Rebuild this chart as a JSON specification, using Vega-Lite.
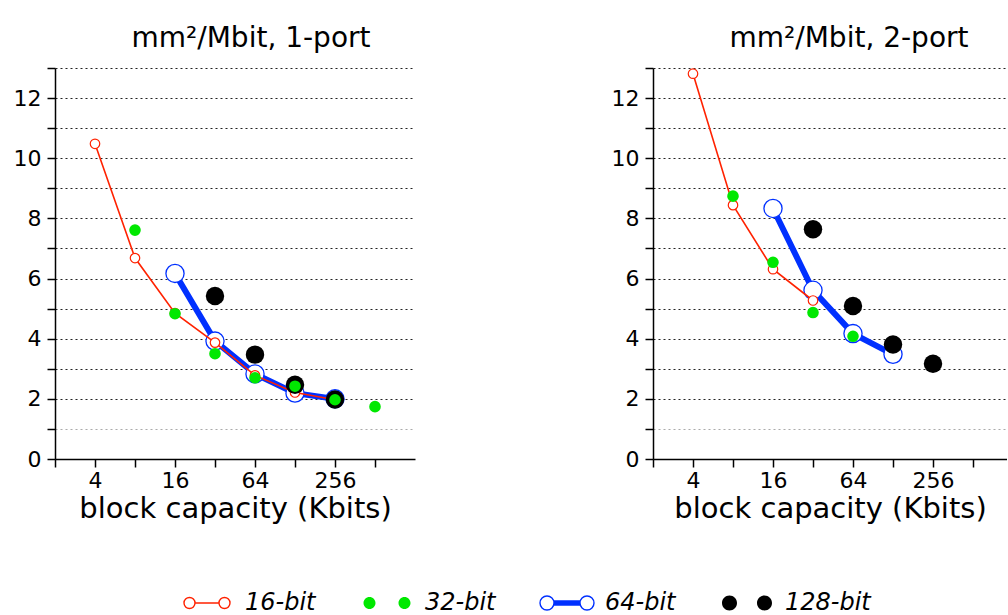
{
  "$schema": "https://vega.github.io/schema/vega-lite/v6.json",
  "padding": {"left": 13, "top": 25, "right": 0, "bottom": 0},
  "datasets": {
    "d": [
      {"panel": "1-port", "series": "16-bit", "kbits": 4, "area": 10.48},
      {"panel": "1-port", "series": "16-bit", "kbits": 8, "area": 6.68},
      {"panel": "1-port", "series": "16-bit", "kbits": 16, "area": 4.85},
      {"panel": "1-port", "series": "16-bit", "kbits": 32, "area": 3.87},
      {"panel": "1-port", "series": "16-bit", "kbits": 64, "area": 2.78},
      {"panel": "1-port", "series": "16-bit", "kbits": 128, "area": 2.21},
      {"panel": "1-port", "series": "16-bit", "kbits": 256, "area": 1.97},
      {"panel": "1-port", "series": "32-bit", "kbits": 8, "area": 7.61},
      {"panel": "1-port", "series": "32-bit", "kbits": 16, "area": 4.83},
      {"panel": "1-port", "series": "32-bit", "kbits": 32, "area": 3.5},
      {"panel": "1-port", "series": "32-bit", "kbits": 64, "area": 2.7},
      {"panel": "1-port", "series": "32-bit", "kbits": 128, "area": 2.42},
      {"panel": "1-port", "series": "32-bit", "kbits": 256, "area": 1.97},
      {"panel": "1-port", "series": "32-bit", "kbits": 512, "area": 1.74},
      {"panel": "1-port", "series": "64-bit", "kbits": 16, "area": 6.17},
      {"panel": "1-port", "series": "64-bit", "kbits": 32, "area": 3.92},
      {"panel": "1-port", "series": "64-bit", "kbits": 64, "area": 2.83},
      {"panel": "1-port", "series": "64-bit", "kbits": 128, "area": 2.19},
      {"panel": "1-port", "series": "64-bit", "kbits": 256, "area": 2.0},
      {"panel": "1-port", "series": "128-bit", "kbits": 32, "area": 5.42},
      {"panel": "1-port", "series": "128-bit", "kbits": 64, "area": 3.47},
      {"panel": "1-port", "series": "128-bit", "kbits": 128, "area": 2.47},
      {"panel": "1-port", "series": "128-bit", "kbits": 256, "area": 1.98},
      {"panel": "2-port", "series": "16-bit", "kbits": 4, "area": 12.81},
      {"panel": "2-port", "series": "16-bit", "kbits": 8, "area": 8.44},
      {"panel": "2-port", "series": "16-bit", "kbits": 16, "area": 6.31},
      {"panel": "2-port", "series": "16-bit", "kbits": 32, "area": 5.27},
      {"panel": "2-port", "series": "32-bit", "kbits": 8, "area": 8.74},
      {"panel": "2-port", "series": "32-bit", "kbits": 16, "area": 6.54},
      {"panel": "2-port", "series": "32-bit", "kbits": 32, "area": 4.87},
      {"panel": "2-port", "series": "32-bit", "kbits": 64, "area": 4.08},
      {"panel": "2-port", "series": "64-bit", "kbits": 16, "area": 8.33},
      {"panel": "2-port", "series": "64-bit", "kbits": 32, "area": 5.61},
      {"panel": "2-port", "series": "64-bit", "kbits": 64, "area": 4.17},
      {"panel": "2-port", "series": "64-bit", "kbits": 128, "area": 3.48},
      {"panel": "2-port", "series": "128-bit", "kbits": 32, "area": 7.64},
      {"panel": "2-port", "series": "128-bit", "kbits": 64, "area": 5.09},
      {"panel": "2-port", "series": "128-bit", "kbits": 128, "area": 3.81},
      {"panel": "2-port", "series": "128-bit", "kbits": 256, "area": 3.17}
    ]
  },
  "data": {"name": "d"},
  "spacing": 196,
  "resolve": {"scale": {"x": "independent", "y": "independent", "color": "shared"}},
  "hconcat": [
    {
      "width": 360,
      "height": 391,
      "title": {"text": "mm²/Mbit, 1-port", "dx": 16},
      "transform": [{"filter": "datum.panel === '1-port'"}],
      "encoding": {
        "x": {
          "field": "kbits", "type": "quantitative",
          "scale": {"type": "log", "base": 2, "domain": [2, 1024], "nice": false},
          "axis": {
            "values": [2, 4, 8, 16, 32, 64, 128, 256, 512], "format": "d",
            "labelExpr": "indexof([4,16,64,256], datum.value) >= 0 ? datum.label : ''",
            "grid": false, "labelOverlap": false, "labelFlush": false,
            "tickSize": 8, "tickWidth": 1.5, "tickColor": "black", "domainColor": "black", "domainWidth": 1.5,
            "labelFontSize": 22, "labelPadding": 3,
            "title": "block capacity (Kbits)", "titleFontSize": 29, "titlePadding": 3
          }
        },
        "y": {
          "field": "area", "type": "quantitative",
          "scale": {"domain": [0, 13], "nice": false},
          "axis": {
            "values": [0, 1, 2, 3, 4, 5, 6, 7, 8, 9, 10, 11, 12, 13],
            "labelExpr": "datum.value % 2 === 0 && datum.value < 13 ? datum.label : ''",
            "grid": true, "gridDash": [2, 3], "gridWidth": 1.2,
            "gridColor": {"condition": {"test": "datum.value === 1", "value": "#aaaaaa"}, "value": "#222222"},
            "labelOverlap": false, "labelFlush": false,
            "tickSize": 8, "tickWidth": 1.5, "tickColor": "black", "domainColor": "black", "domainWidth": 1.5,
            "labelFontSize": 22, "labelPadding": 6, "title": null
          }
        },
        "color": {
          "field": "series", "type": "nominal",
          "scale": {"domain": ["16-bit", "32-bit", "64-bit", "128-bit"], "range": ["#ff2200", "#00e800", "#0030ff", "#000000"]},
          "legend": {
            "orient": "none", "legendX": 118, "legendY": 523, "direction": "horizontal", "columns": 4, "title": null,
            "symbolSize": 100, "symbolStrokeWidth": 1.5, "symbolOffset": 22, "labelOffset": 26,
            "labelFont": "DejaVu Sans", "labelFontStyle": "italic", "labelFontSize": 24, "labelColor": "black",
            "gridAlign": "all", "columnPadding": 22, "padding": 0, "labelLimit": 200,
            "encode": {
              "symbols": {
                "update": {
                  "shape": {"signal": "datum.value === '16-bit' ? 'M-4.6,0A1.1,1.1,0,1,1,-2.4,0A1.1,1.1,0,1,1,-4.6,0ZM-2.4,0L2.4,0M2.4,0A1.1,1.1,0,1,1,4.6,0A1.1,1.1,0,1,1,2.4,0Z' : datum.value === '32-bit' ? 'M-4.7,0A1.2,1.2,0,1,1,-2.3,0A1.2,1.2,0,1,1,-4.7,0ZM2.3,0A1.2,1.2,0,1,1,4.7,0A1.2,1.2,0,1,1,2.3,0Z' : datum.value === '64-bit' ? 'M-5.4,0A1.4,1.4,0,1,1,-2.6,0A1.4,1.4,0,1,1,-5.4,0ZM2.6,0A1.4,1.4,0,1,1,5.4,0A1.4,1.4,0,1,1,2.6,0ZM-2.7,-0.4L2.7,-0.4M-2.7,-0.2L2.7,-0.2M-2.7,0L2.7,0M-2.7,0.2L2.7,0.2M-2.7,0.4L2.7,0.4' : 'M-5,0A1.5,1.5,0,1,1,-2,0A1.5,1.5,0,1,1,-5,0ZM2,0A1.5,1.5,0,1,1,5,0A1.5,1.5,0,1,1,2,0Z'"},
                  "stroke": {"signal": "datum.value === '16-bit' ? '#ff2200' : datum.value === '64-bit' ? '#0030ff' : datum.value === '32-bit' ? '#00e800' : '#000000'"},
                  "strokeWidth": {"value": 1.4},
                  "opacity": {"value": 1},
                  "fillOpacity": {"signal": "datum.value === '16-bit' || datum.value === '64-bit' ? 0 : 1"},
                  "strokeOpacity": {"signal": "datum.value === '16-bit' || datum.value === '64-bit' ? 1 : 0"}
                }
              }
            }
          }
        }
      },
      "layer": [
        {"transform": [{"filter": "datum.series === '64-bit'"}], "mark": {"type": "line", "strokeWidth": 6}},
        {"transform": [{"filter": "datum.series === '64-bit'"}], "mark": {"type": "point", "filled": false, "fill": "white", "size": 330, "strokeWidth": 1.3, "opacity": 1}},
        {"transform": [{"filter": "datum.series === '16-bit'"}], "mark": {"type": "line", "strokeWidth": 1.6}},
        {"transform": [{"filter": "datum.series === '16-bit'"}], "mark": {"type": "point", "filled": false, "fill": "white", "size": 90, "strokeWidth": 1.2, "opacity": 1}},
        {"transform": [{"filter": "datum.series === '128-bit'"}], "mark": {"type": "point", "filled": true, "size": 340, "opacity": 1}},
        {"transform": [{"filter": "datum.series === '32-bit'"}], "mark": {"type": "point", "filled": true, "size": 135, "opacity": 1}}
      ]
    },
    {
      "width": 354,
      "height": 391,
      "title": {"text": "mm²/Mbit, 2-port", "dx": 19},
      "transform": [{"filter": "datum.panel === '2-port'"}],
      "encoding": {
        "x": {
          "field": "kbits", "type": "quantitative",
          "scale": {"type": "log", "base": 2, "domain": [2, 922.9], "nice": false},
          "axis": {
            "values": [2, 4, 8, 16, 32, 64, 128, 256, 512], "format": "d",
            "labelExpr": "indexof([4,16,64,256], datum.value) >= 0 ? datum.label : ''",
            "grid": false, "labelOverlap": false, "labelFlush": false,
            "tickSize": 8, "tickWidth": 1.5, "tickColor": "black", "domainColor": "black", "domainWidth": 1.5,
            "labelFontSize": 22, "labelPadding": 3,
            "title": "block capacity (Kbits)", "titleFontSize": 29, "titlePadding": 3
          }
        },
        "y": {
          "field": "area", "type": "quantitative",
          "scale": {"domain": [0, 13], "nice": false},
          "axis": {
            "values": [0, 1, 2, 3, 4, 5, 6, 7, 8, 9, 10, 11, 12, 13],
            "labelExpr": "datum.value % 2 === 0 && datum.value < 13 ? datum.label : ''",
            "grid": true, "gridDash": [2, 3], "gridWidth": 1.2,
            "gridColor": {"condition": {"test": "datum.value === 1", "value": "#aaaaaa"}, "value": "#222222"},
            "labelOverlap": false, "labelFlush": false,
            "tickSize": 8, "tickWidth": 1.5, "tickColor": "black", "domainColor": "black", "domainWidth": 1.5,
            "labelFontSize": 22, "labelPadding": 6, "title": null
          }
        },
        "color": {
          "field": "series", "type": "nominal",
          "scale": {"domain": ["16-bit", "32-bit", "64-bit", "128-bit"], "range": ["#ff2200", "#00e800", "#0030ff", "#000000"]},
          "legend": {
            "orient": "none", "legendX": 118, "legendY": 523, "direction": "horizontal", "columns": 4, "title": null,
            "symbolSize": 100, "symbolStrokeWidth": 1.5, "symbolOffset": 22, "labelOffset": 26,
            "labelFont": "DejaVu Sans", "labelFontStyle": "italic", "labelFontSize": 24, "labelColor": "black",
            "gridAlign": "all", "columnPadding": 22, "padding": 0, "labelLimit": 200,
            "encode": {
              "symbols": {
                "update": {
                  "shape": {"signal": "datum.value === '16-bit' ? 'M-4.6,0A1.1,1.1,0,1,1,-2.4,0A1.1,1.1,0,1,1,-4.6,0ZM-2.4,0L2.4,0M2.4,0A1.1,1.1,0,1,1,4.6,0A1.1,1.1,0,1,1,2.4,0Z' : datum.value === '32-bit' ? 'M-4.7,0A1.2,1.2,0,1,1,-2.3,0A1.2,1.2,0,1,1,-4.7,0ZM2.3,0A1.2,1.2,0,1,1,4.7,0A1.2,1.2,0,1,1,2.3,0Z' : datum.value === '64-bit' ? 'M-5.4,0A1.4,1.4,0,1,1,-2.6,0A1.4,1.4,0,1,1,-5.4,0ZM2.6,0A1.4,1.4,0,1,1,5.4,0A1.4,1.4,0,1,1,2.6,0ZM-2.7,-0.4L2.7,-0.4M-2.7,-0.2L2.7,-0.2M-2.7,0L2.7,0M-2.7,0.2L2.7,0.2M-2.7,0.4L2.7,0.4' : 'M-5,0A1.5,1.5,0,1,1,-2,0A1.5,1.5,0,1,1,-5,0ZM2,0A1.5,1.5,0,1,1,5,0A1.5,1.5,0,1,1,2,0Z'"},
                  "stroke": {"signal": "datum.value === '16-bit' ? '#ff2200' : datum.value === '64-bit' ? '#0030ff' : datum.value === '32-bit' ? '#00e800' : '#000000'"},
                  "strokeWidth": {"value": 1.4},
                  "opacity": {"value": 1},
                  "fillOpacity": {"signal": "datum.value === '16-bit' || datum.value === '64-bit' ? 0 : 1"},
                  "strokeOpacity": {"signal": "datum.value === '16-bit' || datum.value === '64-bit' ? 1 : 0"}
                }
              }
            }
          }
        }
      },
      "layer": [
        {"transform": [{"filter": "datum.series === '64-bit'"}], "mark": {"type": "line", "strokeWidth": 6}},
        {"transform": [{"filter": "datum.series === '64-bit'"}], "mark": {"type": "point", "filled": false, "fill": "white", "size": 330, "strokeWidth": 1.3, "opacity": 1}},
        {"transform": [{"filter": "datum.series === '16-bit'"}], "mark": {"type": "line", "strokeWidth": 1.6}},
        {"transform": [{"filter": "datum.series === '16-bit'"}], "mark": {"type": "point", "filled": false, "fill": "white", "size": 90, "strokeWidth": 1.2, "opacity": 1}},
        {"transform": [{"filter": "datum.series === '128-bit'"}], "mark": {"type": "point", "filled": true, "size": 340, "opacity": 1}},
        {"transform": [{"filter": "datum.series === '32-bit'"}], "mark": {"type": "point", "filled": true, "size": 135, "opacity": 1}}
      ]
    }
  ],
  "config": {
    "view": {"stroke": null},
    "font": "DejaVu Sans",
    "axis": {"labelFont": "DejaVu Sans", "titleFont": "DejaVu Sans", "labelColor": "black", "titleColor": "black", "titleFontWeight": "normal"},
    "title": {"font": "DejaVu Sans", "fontSize": 28, "fontWeight": "normal", "color": "black", "anchor": "middle", "frame": "group", "offset": 4}
  }
}
